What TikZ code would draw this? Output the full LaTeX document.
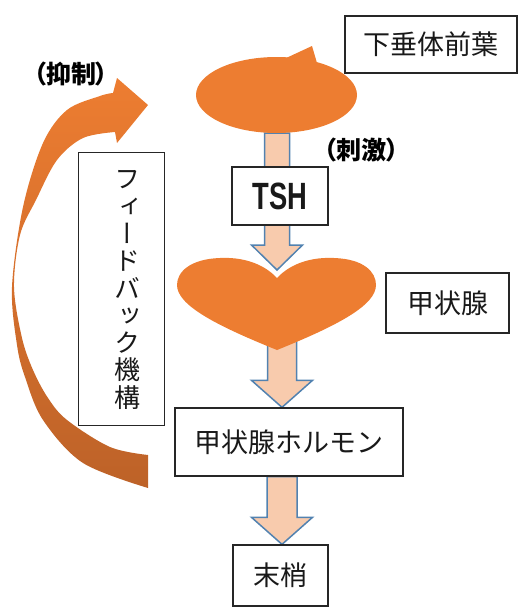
\documentclass[tikz,border=0pt]{standalone}
\usepackage{fontspec}
\usepackage{graphicx}
\usetikzlibrary{shapes.geometric,calc,shadows}
\setsansfont{Liberation Sans}
\newfontfamily\jp{Noto Sans CJK JP}
\newfontfamily\jpvert[RawFeature=+vert]{Noto Sans CJK JP}
\newfontfamily\jpprop[RawFeature=+palt]{Noto Sans CJK JP}
\definecolor{accent}{HTML}{ED7D31}
\definecolor{accentmid}{HTML}{D96F2D}
\definecolor{accentdark}{HTML}{BD6228}
\definecolor{peach}{HTML}{F8CBAD}
\definecolor{steel}{HTML}{5282B0}

\pgfdeclarelayer{flow}
\pgfsetlayers{flow,main}

\tikzset{
  box/.style={draw=black!85, line width=1.3pt, fill=white, inner sep=0pt,
    font=\jp\fontsize{27}{27}\selectfont, text=black!90,
    drop shadow={shadow xshift=1.3pt, shadow yshift=-1.3pt, fill=black!45, opacity=0.8}},
  blockarrow/.style={fill=peach, draw=steel, line width=1.5pt, line join=miter},
  boldlabel/.style={font=\jpprop\bfseries\fontsize{25}{25}\selectfont, text=black, inner sep=0pt},
}

% vertical block arrow: #1 start, #2 tip, #3 x offset, #4 half shaft, #5 half head, #6 head length
\newcommand\blockdown[6]{%
  \draw[blockarrow] let \p1=(#1), \p2=(#2) in
    ({\x1+#3-#4},\y1) -- ({\x1+#3+#4},\y1) -- ({\x1+#3+#4},{\y2+#6})
    -- ({\x1+#3+#5},{\y2+#6}) -- ({\x1+#3},\y2) -- ({\x1+#3-#5},{\y2+#6})
    -- ({\x1+#3-#4},{\y2+#6}) -- cycle;}

\begin{document}
\begin{tikzpicture}[x=1pt,y=-1pt]
\useasboundingbox (0,0) rectangle (519,608);

% feedback loop arrow: thin at its left, widening towards both ends
\shade[top color=accent, middle color=accentmid, bottom color=accentdark]
  plot[smooth, tension=0.55] coordinates {(113,93) (100,96) (67,110) (43,143) (23,207) (12,287)
     (17,345) (25,377) (43,420) (83,463) (148,488)}
  -- plot[smooth, tension=0.55] coordinates {(148,455) (110,447) (67,420) (48,398) (33,370)
     (22,338) (14,287) (20,235) (36,200) (57,160) (83,138) (115,132)}
  -- (117,143) -- (148,105) -- (117,78) -- (113,93) -- cycle;

\node[draw=black!85, line width=1pt, fill=white, minimum width=86pt, minimum height=273pt,
  inner sep=0pt] (fb) at (121,288.5) {};
\node[font=\jpvert\fontsize{26}{27.3}\selectfont, align=center, inner sep=0pt, text=black!90]
  (fbtext) at (127,290) {フ\\ィ\\ー\\ド\\バ\\ッ\\ク\\機\\構};

\node[boldlabel] (inh) at (71,73.5) {（抑制）};

% anterior pituitary
\node[ellipse, fill=accent, minimum width=161pt, minimum height=76pt, inner sep=0pt]
  (pit) at (276.5,95) {};
\fill[accent] (284,59) -- (312,46) -- (317,63) -- cycle;

% thyroid gland
\coordinate (heart) at (277,304);
\coordinate (heartin) at (277,270);
\coordinate (heartout) at (277,340);
\fill[accent] (277,278) .. controls (262,262) and (240,257) .. (220,258)
  .. controls (190,259) and (177,272) .. (177,285)
  .. controls (177,305) and (215,325) .. (277,350)
  .. controls (339,325) and (376,305) .. (376,285)
  .. controls (376,272) and (364,259) .. (334,258)
  .. controls (314,257) and (292,262) .. (277,278) -- cycle;

\node[box, minimum width=172pt, minimum height=57pt] (ant) at (431,44.5) {下垂体前葉};
\node[box, minimum width=96pt, minimum height=58pt] (tsh) at (280,196)
  {\scalebox{0.72}[1]{\sffamily\bfseries\fontsize{38}{38}\selectfont TSH}};
\node[boldlabel] (stim) at (361.5,150.5) {（刺激）};
\node[box, minimum width=123pt, minimum height=60pt] (thy) at (447.5,303) {甲状腺};
\node[box, minimum width=228pt, minimum height=68pt] (hor) at (289,442) {甲状腺ホルモン};
\node[box, minimum width=95pt, minimum height=61pt] (per) at (280.5,575.5) {末梢};

% hormone flow arrows, behind the shapes
\begin{pgfonlayer}{flow}
\blockdown{pit.south}{heartin}{0.5pt}{12.5pt}{25.5pt}{25pt}
\blockdown{heartout}{hor.north}{5pt}{14.5pt}{30.5pt}{27pt}
\blockdown{hor.south}{per.north}{-7pt}{15pt}{30.5pt}{27pt}
\end{pgfonlayer}
\end{tikzpicture}
\end{document}
